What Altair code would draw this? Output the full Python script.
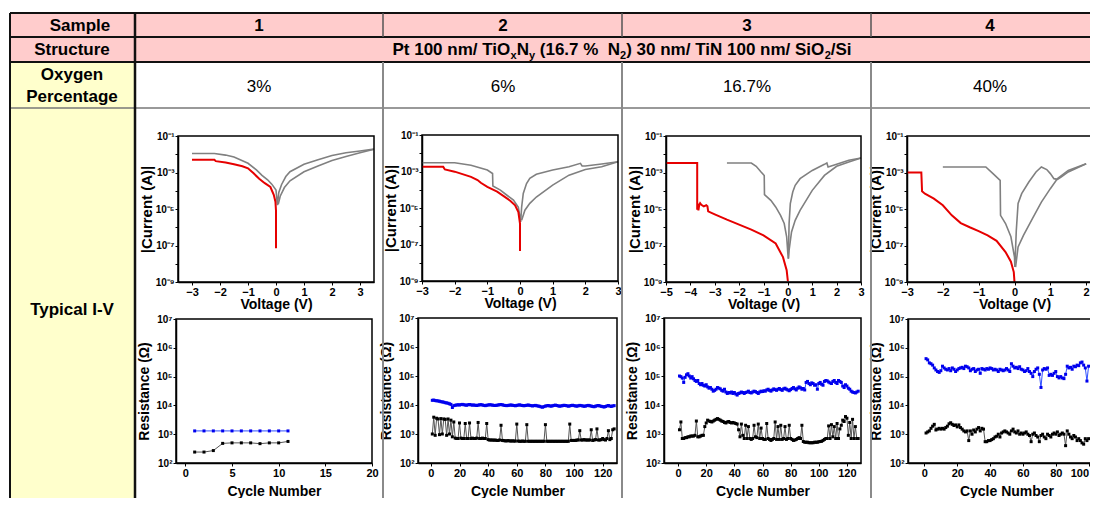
import altair as alt
import pandas as pd

W, H = 1082, 490

# ---------------- table text ----------------
row_titles = ["Sample", "Structure", "Oxygen", "Percentage", "Typical I-V"]
sample_ids = ["1", "2", "3", "4"]
oxygen_pct = ["3%", "6%", "16.7%", "40%"]
NB = "\u00a0"
# (text, is_subscript)
structure_parts = [("Pt 100 nm/ TiO", 0), ("x", 1), ("N", 0), ("y", 1),
                   (" (16.7 %" + NB + NB + "N", 0), ("2", 1), (") 30 nm/ TiN 100 nm/ SiO", 0),
                   ("2", 1), ("/Si", 0)]

# ---------------- I-V data (V in volts, |I| in A) ----------------
iv1_g1_v = [-3.0, -2.2, -1.8, -1.5, -1.0, -0.7, -0.5, -0.3, -0.15, 0.0, 0.05, 0.1, 0.2, 0.35, 0.5, 1.0, 1.5, 2.0, 2.5, 3.0, 3.5]
iv1_g1_i = [1.1e-2, 1.1e-2, 9e-3, 7e-3, 3.2e-3, 1.4e-3, 7e-4, 4e-4, 2.3e-4, 1.1e-4, 1.6e-5, 8e-5, 2.2e-4, 6e-4, 1.1e-3, 2.8e-3, 5e-3, 8.5e-3, 1.2e-2, 1.5e-2, 1.9e-2]
iv1_g2_v = [3.5, 3.0, 2.5, 2.0, 1.5, 1.0, 0.5, 0.3, 0.15, 0.08]
iv1_g2_i = [1.9e-2, 1.2e-2, 7.5e-3, 4.5e-3, 2.3e-3, 1.1e-3, 3.5e-4, 1.5e-4, 5e-5, 1.8e-5]
iv1_r_v = [-3.0, -2.2, -2.15, -1.8, -1.5, -1.2, -1.0, -0.8, -0.6, -0.4, -0.2, -0.08, -0.02, 0.0, 0.0]
iv1_r_i = [5e-3, 5e-3, 4.2e-3, 3.5e-3, 2.8e-3, 2.2e-3, 1.7e-3, 9e-4, 4.5e-4, 2.6e-4, 1.6e-4, 6e-5, 2.5e-5, 8e-6, 7e-8]

iv2_g1_v = [-3.0, -2.0, -1.5, -1.0, -0.84, -0.83, -0.6, -0.4, -0.2, -0.05, 0.02, 0.05, 0.1, 0.2, 0.3, 0.5, 1.0, 1.5, 1.85, 1.9, 2.0, 2.5, 3.0]
iv2_g1_i = [3e-3, 3e-3, 2.2e-3, 1.2e-3, 7.8e-4, 1.6e-4, 9.5e-5, 5e-5, 2.7e-5, 1.1e-5, 1.7e-6, 1.1e-5, 6.3e-5, 2.2e-4, 4.2e-4, 7e-4, 1.2e-3, 1.8e-3, 2.8e-3, 2e-3, 2e-3, 2.6e-3, 3.4e-3]
iv2_g2_v = [3.0, 2.5, 2.0, 1.5, 1.0, 0.5, 0.3, 0.15, 0.05]
iv2_g2_i = [3.4e-3, 1.8e-3, 1.3e-3, 6.3e-4, 1.8e-4, 4e-5, 1.8e-5, 7.6e-6, 2.1e-6]
iv2_r_v = [-3.0, -2.35, -2.3, -2.0, -1.5, -1.3, -1.2, -1.0, -0.7, -0.5, -0.3, -0.15, -0.05, 0.0, 0.0]
iv2_r_i = [1.8e-3, 1.8e-3, 1.3e-3, 9.8e-4, 5.1e-4, 3.4e-4, 2.4e-4, 1.45e-4, 7.8e-5, 4.5e-5, 2.5e-5, 1.4e-5, 6e-6, 1.4e-6, 4.4e-8]

iv3_g1_v = [-2.5, -1.5, -1.3, -1.1, -0.97, -0.96, -0.7, -0.5, -0.3, -0.15, -0.05, 0.0, 0.02, 0.05, 0.1, 0.2, 0.3, 0.5, 1.0, 1.5, 1.6, 1.65, 2.0, 2.5, 3.0]
iv3_g1_i = [3.3e-3, 3.3e-3, 2.2e-3, 1.07e-3, 6.9e-4, 6.2e-5, 3e-5, 1.3e-5, 4.5e-6, 1.6e-6, 3e-7, 3.5e-8, 1.9e-8, 1.6e-6, 2e-5, 8.5e-5, 2e-4, 4.6e-4, 1.3e-3, 2.8e-3, 3.3e-3, 2e-3, 2.8e-3, 4.7e-3, 6.2e-3]
iv3_g2_v = [3.0, 2.5, 2.0, 1.5, 1.0, 0.5, 0.3, 0.15, 0.05, 0.02]
iv3_g2_i = [6.2e-3, 3.8e-3, 2.2e-3, 6.9e-4, 1.05e-4, 8.5e-6, 2.4e-6, 5.5e-7, 5.5e-8, 1.9e-8]
iv3_r_v = [-5.0, -3.72, -3.72, -3.70, -3.67, -3.64, -3.60, -3.55, -3.45, -3.35, -3.30, -3.27, -3.0, -2.5, -2.0, -1.5, -1.0, -0.5, -0.2, -0.05, 0.0]
iv3_r_i = [3.3e-3, 3.3e-3, 9.1e-6, 2e-5, 8.5e-6, 1.6e-5, 2.1e-5, 1.7e-5, 1.4e-5, 1.6e-5, 1.4e-5, 7.4e-6, 5.1e-6, 2.6e-6, 1.4e-6, 7.4e-7, 3.6e-7, 1.3e-7, 2.3e-8, 4.4e-9, 1.1e-9]

iv4_g1_v = [-2.0, -0.8, -0.6, -0.4, -0.39, -0.25, -0.1, 0.0, 0.01, 0.05, 0.1, 0.2, 0.4, 0.6, 0.75, 0.9, 1.0, 1.1, 1.2, 1.3, 1.5, 2.0]
iv4_g1_i = [2e-3, 2e-3, 8.7e-4, 3.7e-4, 4.5e-6, 1.6e-6, 3e-7, 2.3e-8, 6.6e-9, 6.7e-7, 2e-5, 6.9e-5, 3e-4, 1.07e-3, 2e-3, 1.45e-3, 8.7e-4, 4.6e-4, 4.2e-4, 5.6e-4, 1.07e-3, 3e-3]
iv4_g2_v = [2.0, 1.5, 1.2, 1.0, 0.75, 0.5, 0.25, 0.1, 0.03]
iv4_g2_i = [3e-3, 1.3e-3, 4.6e-4, 1.3e-4, 2.4e-5, 3e-6, 3.6e-7, 8.3e-8, 6.6e-9]
iv4_r_v = [-3.0, -2.6, -2.58, -2.5, -2.25, -2.0, -1.75, -1.5, -1.25, -1.0, -0.75, -0.5, -0.25, -0.1, -0.02, 0.0]
iv4_r_i = [1.0e-3, 1.0e-3, 9.3e-5, 6.9e-5, 3.7e-5, 1.6e-5, 4.5e-6, 1.7e-6, 1e-6, 6.2e-7, 3.6e-7, 1.8e-7, 4.4e-8, 1.3e-8, 3.5e-9, 1e-9]

# ---------------- Resistance vs cycle data (Ohm) ----------------
r1_hrs = [1300, 1300, 1300, 1300, 1300, 1300, 1300, 1300, 1300, 1300, 1300]
r1_lrs = [240, 240, 270, 480, 500, 500, 500, 470, 500, 500, 560]

r2_hrs = [14500, 14800, 14200, 14000, 13800, 13500, 13000, 12800, 12500, 12000,
          11800, 11500, 11000, 10500, 8200, 9500, 9800, 10000, 10200, 10000,
          10300, 10500, 10200, 10000, 9800, 10200, 10400, 10100, 9900, 10000,
          9800, 9600, 9900, 10100, 10300, 10000, 9700, 9500, 9800, 10000,
          10200, 10100, 9900, 9700, 9600, 9800, 10000, 10200, 10400, 10100,
          9800, 9600, 9500, 9700, 9900, 10000, 9800, 9600, 9400, 9700,
          9900, 10100, 9800, 9600, 9400, 9600, 9800, 10000, 9700, 9500,
          9300, 9500, 9700, 9400, 9200, 9000, 8600, 8400, 8800, 9200,
          9400, 9600, 9300, 9100, 9400, 9700, 9900, 9600, 9300, 9100,
          9300, 9500, 9800, 9600, 9400, 9100, 9300, 9600, 9800, 9500,
          9300, 9100, 9400, 9700, 9500, 9300, 9000, 9200, 9500, 9700,
          9400, 9200, 8900, 8700, 9100, 9400, 9600, 9300, 9000, 8800,
          8500, 8900, 9300, 9600, 9200, 8900, 9300, 9500]
r2_lrs = [1000, 3800, 900, 3500, 3300, 950, 3400, 1000, 3300, 3200,
          900, 3300, 1000, 3000, 800, 2600, 720, 700, 700, 2400,
          720, 700, 700, 2300, 700, 700, 2400, 700, 720, 700,
          700, 720, 2500, 700, 700, 720, 700, 700, 2300, 640,
          620, 620, 620, 610, 620, 600, 600, 620, 2000, 600,
          590, 580, 580, 590, 580, 570, 580, 570, 570, 2200,
          570, 560, 560, 570, 560, 560, 2100, 560, 560, 560,
          560, 560, 560, 560, 560, 560, 560, 560, 560, 2100,
          560, 560, 560, 560, 560, 560, 560, 560, 560, 560,
          560, 560, 560, 560, 560, 560, 2200, 600, 600, 600,
          600, 620, 620, 1300, 620, 620, 640, 620, 620, 620,
          620, 1400, 600, 620, 640, 1500, 620, 620, 640, 700,
          640, 620, 700, 1300, 640, 700, 1400, 1500]

r3_hrs = [100000, 95000, 85000, 60000, 90000, 110000, 120000, 100000, 85000, 95000,
          80000, 70000, 65000, 70000, 55000, 50000, 55000, 48000, 45000, 50000,
          42000, 38000, 40000, 35000, 30000, 32000, 35000, 40000, 38000, 36000,
          32000, 30000, 35000, 28000, 25000, 27000, 26000, 28000, 25000, 27000,
          24000, 22000, 25000, 26000, 28000, 27000, 25000, 27000, 28000, 30000,
          27000, 26000, 28000, 30000, 29000, 27000, 25000, 28000, 30000, 29000,
          31000, 30000, 33000, 35000, 32000, 30000, 33000, 36000, 34000, 32000,
          35000, 37000, 34000, 32000, 36000, 38000, 35000, 33000, 31000, 34000,
          37000, 40000, 36000, 33000, 38000, 42000, 39000, 35000, 37000, 33000,
          60000, 65000, 55000, 50000, 58000, 55000, 48000, 50000, 35000, 55000,
          60000, 52000, 48000, 65000, 70000, 68000, 62000, 58000, 55000, 65000,
          70000, 60000, 55000, 70000, 65000, 60000, 45000, 40000, 50000, 45000,
          38000, 35000, 30000, 28000, 27000, 26000, 28000, 30000]
r3_lrs = [1400, 2600, 700, 700, 750, 750, 800, 800, 850, 850,
          850, 900, 2800, 800, 800, 850, 900, 900, 1800, 2400,
          3000, 2800, 2700, 2600, 2800, 3000, 3200, 3400, 3200, 3000,
          2800, 2700, 2500, 2400, 2600, 2700, 2500, 2400, 2500, 2400,
          2300, 2200, 1400, 800, 2200, 900, 700, 2000, 700, 1800,
          700, 650, 700, 2000, 800, 750, 2200, 700, 1600, 700,
          650, 650, 2300, 700, 650, 600, 650, 700, 2600, 650,
          1800, 650, 2000, 650, 700, 1800, 650, 700, 2000, 700,
          650, 600, 620, 650, 700, 750, 700, 2000, 550, 520,
          520, 520, 500, 500, 500, 500, 520, 520, 520, 540,
          550, 560, 600, 650, 700, 700, 1900, 700, 2100, 800,
          1800, 700, 2300, 700, 1500, 2000, 3000, 2700, 4000, 3500,
          900, 2500, 700, 3200, 700, 1800, 700, 700]

r4_hrs = [420000, 380000, 300000, 280000, 250000, 200000, 170000, 150000, 140000, 160000,
          230000, 200000, 180000, 170000, 190000, 160000, 200000, 180000, 150000, 170000,
          190000, 200000, 210000, 190000, 230000, 220000, 200000, 160000, 180000, 190000,
          150000, 170000, 180000, 130000, 190000, 180000, 170000, 190000, 180000, 200000,
          190000, 170000, 180000, 170000, 150000, 180000, 170000, 160000, 170000, 190000,
          170000, 150000, 280000, 230000, 200000, 210000, 190000, 220000, 180000, 170000,
          150000, 160000, 190000, 150000, 130000, 100000, 150000, 180000, 200000, 120000,
          42000, 170000, 190000, 180000, 200000, 110000, 120000, 110000, 130000, 150000,
          100000, 90000, 100000, 90000, 85000, 120000, 230000, 200000, 210000, 180000,
          230000, 220000, 250000, 240000, 300000, 320000, 250000, 200000, 70000, 230000]
r4_lrs = [1100, 1200, 1300, 1600, 1900, 2200, 1400, 1500, 1600, 1500,
          1600, 1500, 1700, 1900, 2300, 2500, 2200, 2000, 2100, 1800,
          2100, 1700, 1500, 1300, 1200, 1300, 600, 1300, 1000, 1400,
          1200, 1500, 1700, 1300, 1600, 1500, 550, 550, 600, 600,
          650, 700, 800, 850, 1000, 800, 1100, 1200, 1300, 1200,
          1100, 1000, 1300, 1500, 1200, 1100, 1300, 1000, 1100, 1000,
          1100, 1200, 1000, 900, 550, 1000, 1100, 900, 800, 550,
          900, 1000, 800, 700, 1000, 900, 800, 1000, 1100, 1000,
          1200, 900, 1000, 1100, 1000, 400, 1300, 1000, 800, 700,
          900, 800, 600, 700, 600, 500, 450, 700, 600, 700]

# ---------------- styling / layout ----------------
FONT = "Liberation Sans"
PINK = "#FFCCCC"
YEL = "#FFFFCC"
TL, TC = 2, 127
COLS = [127, 375, 614, 863]
ROWS = [5, 29, 54, 100]
COL_CENTERS = [251, 495, 739, 982]

TS = alt.Scale(domain=[0, W], range=[0, W])
TSY = alt.Scale(domain=[0, H], range=[0, H])


def tx(f):
    return alt.X(f, type="quantitative", scale=TS, axis=None)


def ty(f):
    return alt.Y(f, type="quantitative", scale=TSY, axis=None)


cells = pd.DataFrame([
    dict(x=TL, x2=TC, y=ROWS[0], y2=ROWS[2], f=PINK),
    dict(x=TL, x2=TC, y=ROWS[2], y2=H, f=YEL),
    dict(x=TC, x2=W, y=ROWS[0], y2=ROWS[2], f=PINK),
])
cell_layer = alt.Chart(cells).mark_rect().encode(
    x=tx("x"), x2="x2", y=ty("y"), y2="y2", fill=alt.Fill("f:N", scale=None))

lines = [
    dict(x=TL, x2=W, y=ROWS[0], y2=ROWS[0], c="#111111", w=2.2),
    dict(x=TL, x2=W, y=ROWS[1], y2=ROWS[1], c="#111111", w=2.0),
    dict(x=TL, x2=W, y=ROWS[2], y2=ROWS[2], c="#111111", w=2.0),
    dict(x=TL, x2=W, y=ROWS[3], y2=ROWS[3], c="#777777", w=1.5),
    dict(x=TL, x2=TL, y=ROWS[0], y2=H, c="#111111", w=2.0),
    dict(x=TC, x2=TC, y=ROWS[0], y2=H, c="#111111", w=2.5),
]
for cx in COLS[1:]:
    lines.append(dict(x=cx, x2=cx, y=ROWS[0], y2=ROWS[1], c="#555555", w=1.5))
    lines.append(dict(x=cx, x2=cx, y=ROWS[2], y2=H, c="#8a8a8a", w=2.0))
line_layer = alt.Chart(pd.DataFrame(lines)).mark_rule().encode(
    x=tx("x"), x2="x2", y=ty("y"), y2="y2",
    color=alt.Color("c:N", scale=None), size=alt.Size("w:Q", scale=None))

bold_txt = [
    dict(t=row_titles[0], x=72, y=23),
    dict(t=row_titles[1], x=64, y=47),
    dict(t=row_titles[2], x=64, y=72),
    dict(t=row_titles[3], x=64, y=94),
    dict(t=row_titles[4], x=64, y=307),
]
for s, cxp in zip(sample_ids, COL_CENTERS):
    bold_txt.append(dict(t=s, x=cxp, y=23))
bold_layer = alt.Chart(pd.DataFrame(bold_txt)).mark_text(
    font=FONT, fontWeight="bold", fontSize=17, align="center", baseline="alphabetic", color="black"
).encode(x=tx("x"), y=ty("y"), text="t:N")

reg_txt = [dict(t=o, x=cxp, y=84) for o, cxp in zip(oxygen_pct, COL_CENTERS)]
reg_layer = alt.Chart(pd.DataFrame(reg_txt)).mark_text(
    font=FONT, fontSize=17, align="center", baseline="alphabetic", color="black"
).encode(x=tx("x"), y=ty("y"), text="t:N")

# structure line with subscripts, laid out with Arial/Liberation Bold advance widths
ADV = {"P": 667, "t": 333, " ": 278, NB: 278, "1": 556, "0": 556, "n": 611, "m": 889, "/": 278,
       "T": 611, "i": 278, "O": 778, "x": 556, "N": 722, "y": 556, "(": 333, "6": 556,
       ".": 278, "7": 556, "%": 889, ")": 333, "3": 556, "S": 667, "2": 556}
FS_MAIN, FS_SUB = 17, 11


def adv(s, fs):
    return sum(ADV.get(ch, 556) for ch in s) / 1000 * fs


total = sum(adv(s, FS_SUB if sub else FS_MAIN) for s, sub in structure_parts)
xcur = 614 - total / 2
struct_rows = []
for s, sub in structure_parts:
    fs = FS_SUB if sub else FS_MAIN
    lead = len(s) - len(s.lstrip(" "))
    struct_rows.append(dict(t=s.strip(" "), x=xcur + adv(" " * lead, fs),
                            y=47 + (4 if sub else 0), fs=fs))
    xcur += adv(s, fs)
struct_layer = alt.Chart(pd.DataFrame(struct_rows)).mark_text(
    font=FONT, fontWeight="bold", align="left", baseline="alphabetic", color="black"
).encode(x=tx("x"), y=ty("y"), text="t:N", size=alt.Size("fs:Q", scale=None))

table = alt.layer(cell_layer, line_layer, bold_layer, reg_layer, struct_layer)

SUP = "⁰¹²³⁴⁵⁶⁷⁸⁹"
EXP = "round(log(datum.value)/LN10)"
IV_LABEL = (f"({EXP} % 2 == 0) ? '' : '10⁻' + substring('{SUP}', -{EXP}, -{EXP}+1)")
R_LABEL = f"'10' + substring('{SUP}', {EXP}, {EXP}+1)"


def frame_layer(xdom, ydom, xs, ys, ax, ay):
    fdf = pd.DataFrame([dict(a=xdom[0], b=xdom[1], c=ydom[0], d=ydom[1])])
    return alt.Chart(fdf).mark_rect(fill="white", fillOpacity=0, stroke="black", strokeWidth=1.5).encode(
        x=alt.X("a:Q", scale=xs, axis=ax), x2="b",
        y=alt.Y("c:Q", scale=ys, axis=ay), y2="d")


def iv_panel(grays, red, xdom, xticks, box):
    x0, x1, y0, y1 = box
    rows = []
    for ci, (vs, cs) in enumerate(grays):
        for k, (v, c) in enumerate(zip(vs, cs)):
            rows.append(dict(V=v, I=c, c=f"g{ci}", k=k))
    gdf = pd.DataFrame(rows)
    rdf = pd.DataFrame(dict(V=red[0], I=red[1], k=list(range(len(red[0])))))
    xs = alt.Scale(domain=xdom, range=[x0, x1], nice=False, zero=False)
    ys = alt.Scale(type="log", domain=[1e-9, 1e-1], range=[y1, y0], nice=False)
    ax = alt.Axis(orient="bottom", offset=y1 - H, values=xticks, title="Voltage (V)",
                  titlePadding=0, titleFontSize=14, labelFlush=False, labelOverlap=False,
                  labelFontSize=11, format="d")
    ay = alt.Axis(orient="left", offset=-x0, values=[10.0 ** e for e in range(-9, 0)],
                  title="|Current (A)|", titlePadding=1, titleFontSize=15,
                  labelExpr=IV_LABEL, labelFlush=False, labelOverlap=False, labelFontSize=10)
    gray = alt.Chart(gdf).mark_line(color="#808080", strokeWidth=1.6).encode(
        x=alt.X("V:Q", scale=xs, axis=ax), y=alt.Y("I:Q", scale=ys, axis=ay),
        detail="c:N", order="k:Q")
    redl = alt.Chart(rdf).mark_line(color="#e60000", strokeWidth=2).encode(
        x=alt.X("V:Q", scale=xs, axis=ax), y=alt.Y("I:Q", scale=ys, axis=ay), order="k:Q")
    return alt.layer(gray, redl, frame_layer(xdom, [1e-9, 1e-1], xs, ys, ax, ay))


def r_panel(hrs, lrs, xdom, xticks, box, last_right=False):
    x0, x1, y0, y1 = box
    cyc = list(range(1, len(hrs) + 1))
    df = pd.DataFrame(dict(n=cyc + cyc, R=hrs + lrs, s=["HRS"] * len(hrs) + ["LRS"] * len(lrs)))
    xs = alt.Scale(domain=xdom, range=[x0, x1], nice=False, zero=False)
    ys = alt.Scale(type="log", domain=[1e2, 1e7], range=[y1, y0], nice=False)
    extra = {}
    if last_right:
        extra["labelAlign"] = {"expr": f"datum.value == {xticks[-1]} ? 'right' : 'center'"}
    ax = alt.Axis(orient="bottom", offset=y1 - H, values=xticks, title="Cycle Number",
                  titlePadding=6, titleFontSize=14, labelFlush=False, labelOverlap=False,
                  labelFontSize=11, format="d", **extra)
    ay = alt.Axis(orient="left", offset=-x0, values=[10.0 ** e for e in range(2, 8)],
                  title="Resistance (Ω)", titlePadding=4, titleFontSize=14,
                  labelExpr=R_LABEL, labelFlush=False, labelOverlap=False, labelFontSize=10)
    layers = []
    for ser, lc, pc in [("HRS", "#3050ff", "#0000ee"), ("LRS", "#555555", "#000000")]:
        base = alt.Chart(df).transform_filter(alt.datum.s == ser)
        layers.append(base.mark_line(color=lc, strokeWidth=1).encode(
            x=alt.X("n:Q", scale=xs, axis=ax), y=alt.Y("R:Q", scale=ys, axis=ay)))
        layers.append(base.mark_point(shape="square", filled=True, size=9, color=pc, opacity=1).encode(
            x=alt.X("n:Q", scale=xs, axis=ax), y=alt.Y("R:Q", scale=ys, axis=ay)))
    layers.append(frame_layer(xdom, [1e2, 1e7], xs, ys, ax, ay))
    return alt.layer(*layers)


panels = [
    iv_panel([(iv1_g1_v, iv1_g1_i), (iv1_g2_v, iv1_g2_i)], (iv1_r_v, iv1_r_i),
             [-3.5, 3.5], [-3, -2, -1, 0, 1, 2, 3], (170, 366, 128, 274)),
    iv_panel([(iv2_g1_v, iv2_g1_i), (iv2_g2_v, iv2_g2_i)], (iv2_r_v, iv2_r_i),
             [-3, 3], [-3, -2, -1, 0, 1, 2, 3], (414, 610, 127, 273)),
    iv_panel([(iv3_g1_v, iv3_g1_i), (iv3_g2_v, iv3_g2_i)], (iv3_r_v, iv3_r_i),
             [-5, 3], [-5, -4, -3, -2, -1, 0, 1, 2, 3], (658, 853, 128, 274)),
    iv_panel([(iv4_g1_v, iv4_g1_i), (iv4_g2_v, iv4_g2_i)], (iv4_r_v, iv4_r_i),
             [-3, 3], [-3, -2, -1, 0, 1, 2], (899, 1114, 128, 274)),
    r_panel(r1_hrs, r1_lrs, [-1, 20], [0, 5, 10, 15, 20], (168, 364, 311, 455)),
    r_panel(r2_hrs, r2_lrs, [-9, 130], [0, 20, 40, 60, 80, 100, 120], (410, 609, 310, 455)),
    r_panel(r3_hrs, r3_lrs, [-10, 130], [0, 20, 40, 60, 80, 100, 120], (656, 853, 310, 455)),
    r_panel(r4_hrs, r4_lrs, [-10, 110], [0, 20, 40, 60, 80, 100], (900, 1097, 311, 455), last_right=True),
]

chart = alt.layer(table, *panels).resolve_scale(x="independent", y="independent").properties(
    width=W, height=H, padding=0, autosize=alt.AutoSizeParams(type="none")
).configure_view(stroke=None).configure_axis(
    grid=False, domainColor="black", domainWidth=1.5, tickColor="black", tickSize=3,
    tickWidth=1, labelColor="black", labelFont=FONT, labelFontWeight="bold", labelFontSize=10,
    labelPadding=1, titleFont=FONT, titleFontWeight="bold", titleColor="black"
)

chart.save("out.html", embed_options={"renderer": "svg", "actions": False})
